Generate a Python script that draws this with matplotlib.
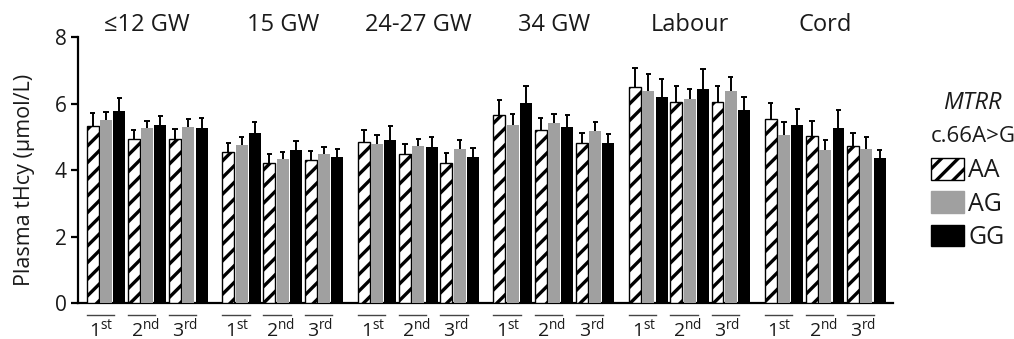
import matplotlib
matplotlib.use("Agg")
import matplotlib.pyplot as plt
from matplotlib.patches import Patch
import matplotlib.transforms as mtransforms
import numpy as np

plt.rcParams['font.family'] = ['Open Sans', 'DejaVu Sans']
plt.rcParams['mathtext.fontset'] = 'custom'
plt.rcParams['mathtext.rm'] = 'Open Sans'
plt.rcParams['mathtext.it'] = 'Open Sans:italic'
plt.rcParams['hatch.linewidth'] = 2.4

groups = ['≤12 GW', '15 GW', '24-27 GW', '34 GW', 'Labour', 'Cord']
trimesters = [r'1$^{\mathrm{st}}$', r'2$^{\mathrm{nd}}$', r'3$^{\mathrm{rd}}$']
genotypes = ['AA', 'AG', 'GG']

AA = [[5.32, 4.95, 4.95], [4.55, 4.22, 4.30], [4.85, 4.48, 4.23],
      [5.67, 5.20, 4.82], [6.52, 6.05, 6.05], [5.53, 5.02, 4.72]]
AA_err = [[0.39, 0.25, 0.30], [0.27, 0.26, 0.28], [0.35, 0.30, 0.29],
          [0.43, 0.38, 0.31], [0.55, 0.50, 0.50], [0.49, 0.46, 0.40]]
AG = [[5.50, 5.27, 5.30], [4.77, 4.35, 4.48], [4.80, 4.73, 4.63],
      [5.35, 5.42, 5.18], [6.40, 6.13, 6.37], [5.07, 4.62, 4.65]]
AG_err = [[0.25, 0.21, 0.25], [0.23, 0.20, 0.22], [0.27, 0.22, 0.27],
          [0.35, 0.27, 0.27], [0.50, 0.32, 0.45], [0.37, 0.28, 0.35]]
GG = [[5.78, 5.37, 5.27], [5.12, 4.60, 4.40], [4.92, 4.70, 4.40],
      [6.03, 5.30, 4.82], [6.20, 6.45, 5.80], [5.37, 5.28, 4.38]]
GG_err = [[0.39, 0.26, 0.30], [0.33, 0.28, 0.23], [0.40, 0.30, 0.27],
          [0.52, 0.37, 0.28], [0.55, 0.60, 0.40], [0.46, 0.54, 0.24]]

GRAY = '#a0a0a0'
TXT = '#1a1a1a'
G_STEP, T_STEP, B_STEP, WIDTH = 10.2, 3.1, 1.0, 0.9

fig = plt.figure(figsize=(10.14, 3.39), dpi=100)
ax = fig.add_axes([78 / 1014, 1 - 303.3 / 339, (893 - 78) / 1014, 266 / 339])

series = [(AA, AA_err, dict(facecolor='white', edgecolor='black', hatch='//', linewidth=1.0)),
          (AG, AG_err, dict(color=GRAY, linewidth=0)),
          (GG, GG_err, dict(color='black', linewidth=0))]

base = np.array([[g * G_STEP + t * T_STEP for t in range(3)] for g in range(6)])
for j, (vals, errs, style) in enumerate(series):
    x = (base + j * B_STEP).ravel()
    v = np.array(vals).ravel()
    e = np.array(errs).ravel()
    ax.bar(x, v, width=WIDTH, zorder=3, **style)
    ax.vlines(x, v, v + e, color='black', linewidth=1.4, zorder=2)
    ax.hlines(v + e, x - 0.2, x + 0.2, color='black', linewidth=1.4, zorder=2)

trans = mtransforms.blended_transform_factory(ax.transData, ax.transAxes)
for g, name in enumerate(groups):
    cx = g * G_STEP + T_STEP + B_STEP
    ax.text(cx, 1.046, name, transform=trans, ha='center', va='center', fontsize=17, color=TXT)
    for t, lab in enumerate(trimesters):
        x0 = base[g, t] - WIDTH / 2
        ax.plot([x0, x0 + 2.05], [-0.044, -0.044], transform=trans, color='#444444',
                linewidth=1.0, clip_on=False)
        ax.text(x0 + 0.2, -0.097, lab, transform=trans, ha='left', va='center', fontsize=14,
                color=TXT)

ax.set_xlim(-1.1, base[-1, -1] + 2 + 1.0)
ax.set_ylim(0, 8)
ax.set_yticks([0, 2, 4, 6, 8])
ax.set_xticks([])
for s in ['top', 'right']:
    ax.spines[s].set_visible(False)
ax.spines['left'].set_linewidth(1.6)
ax.spines['bottom'].set_linewidth(1.6)
ax.tick_params(axis='y', direction='out', length=5, width=1.6, labelsize=15, pad=3,
               labelcolor=TXT)

fig.text(25 / 1014, 1 - 180 / 339, 'Plasma tHcy (μmol/L)', rotation=90, ha='center',
         va='center', fontsize=15.5, color=TXT)

fig.text(972 / 1014, 1 - 103 / 339, 'MTRR', style='italic', ha='center', va='center',
         fontsize=17, color=TXT)
fig.text(973 / 1014, 1 - 137 / 339, 'c.66A>G', ha='center', va='center', fontsize=16, color=TXT)
handles = [Patch(facecolor='white', edgecolor='black', hatch='//', linewidth=1.0),
           Patch(facecolor=GRAY, edgecolor=GRAY),
           Patch(facecolor='black', edgecolor='black')]
leg = fig.legend(handles, genotypes, loc='upper left', bbox_to_anchor=(931 / 1014, 1 - 158 / 339),
                 frameon=False, fontsize=18, handlelength=1.3, handleheight=0.95,
                 handletextpad=0.2, labelspacing=0.32, borderpad=0, borderaxespad=0)
for t in leg.get_texts():
    t.set_color(TXT)

fig.savefig('out.png', dpi=100)
